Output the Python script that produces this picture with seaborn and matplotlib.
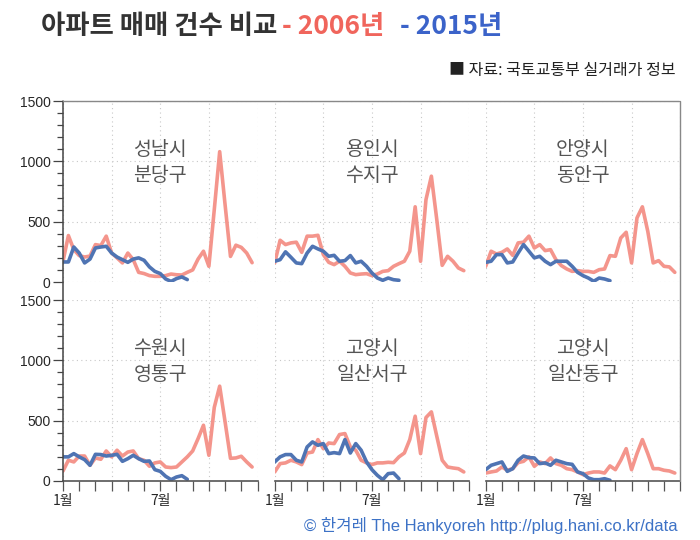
import matplotlib
matplotlib.use("Agg")
import matplotlib.pyplot as plt
import matplotlib.lines as mlines
import seaborn as sns
import pandas as pd
import numpy as np

# ============================================================================
# DATA (apartment sales count, 3 periods per month: 상/중/하순)
# ============================================================================
REGIONS = [('성남시', '분당구'), ('용인시', '수지구'), ('안양시', '동안구'),
           ('수원시', '영통구'), ('고양시', '일산서구'), ('고양시', '일산동구')]

Y2006_BUNDANG = [171, 385, 268, 219, 207, 215, 310, 302, 380, 240, 200, 158,
                 240, 185, 80, 70, 53, 47, 47, 53, 66, 60, 58, 80,
                 100, 190, 255, 130, 600, 1080, 640, 212, 305, 287, 240, 160]
Y2015_BUNDANG = [166, 166, 290, 240, 158, 190, 282, 290, 296, 240, 207, 185,
                 163, 190, 200, 180, 125, 88, 70, 25, 5, 28, 42, 20]

Y2006_SUJI = [158, 346, 310, 324, 330, 246, 380, 380, 387, 227, 163, 144,
              172, 130, 75, 61, 66, 69, 53, 66, 88, 94, 130, 152,
              172, 255, 623, 172, 683, 877, 517, 138, 213, 172, 116, 94]
Y2015_SUJI = [172, 185, 250, 205, 158, 152, 240, 296, 274, 255, 213, 221,
              172, 177, 219, 158, 172, 130, 75, 33, 14, 33, 19, 14]

Y2006_DONGAN = [130, 255, 232, 246, 274, 221, 324, 330, 380, 282, 310, 260,
                268, 185, 136, 108, 88, 94, 88, 88, 80, 102, 108, 219,
                213, 365, 412, 158, 531, 623, 420, 158, 177, 130, 125, 80]
Y2015_DONGAN = [163, 172, 227, 227, 158, 166, 240, 310, 255, 200, 213, 172,
                144, 172, 172, 172, 130, 80, 53, 33, 6, 33, 25, 11]

Y2006_YEONGTONG = [83, 172, 158, 207, 207, 130, 191, 180, 249, 200, 255, 207,
                   240, 249, 185, 172, 122, 150, 158, 116, 111, 116, 158, 200,
                   249, 351, 462, 213, 610, 786, 490, 188, 191, 205, 158, 116]
Y2015_YEONGTONG = [200, 200, 227, 200, 177, 130, 221, 219, 207, 213, 221, 163,
                   185, 213, 185, 163, 166, 94, 80, 39, 11, 33, 44, 14]

Y2006_ILSANSEO = [75, 144, 150, 172, 158, 136, 232, 240, 343, 268, 315, 310,
                  385, 393, 282, 255, 172, 150, 136, 150, 150, 155, 152, 200,
                  232, 343, 537, 227, 526, 573, 371, 172, 116, 108, 102, 75]
Y2015_ILSANSEO = [158, 200, 219, 219, 172, 158, 282, 324, 296, 310, 227, 235,
                  227, 343, 232, 310, 255, 158, 94, 47, 11, 61, 66, 19]

Y2006_ILSANDONG = [66, 75, 83, 116, 89, 102, 152, 163, 200, 122, 158, 144,
                   191, 144, 130, 102, 94, 75, 53, 66, 75, 75, 66, 125,
                   94, 172, 268, 94, 227, 343, 227, 102, 102, 89, 83, 66]
Y2015_ILSANDONG = [94, 130, 144, 158, 80, 102, 172, 207, 194, 191, 144, 150,
                   130, 172, 158, 144, 138, 75, 61, 25, 11, 11, 19, 6]

SERIES_2006 = [Y2006_BUNDANG, Y2006_SUJI, Y2006_DONGAN,
               Y2006_YEONGTONG, Y2006_ILSANSEO, Y2006_ILSANDONG]
SERIES_2015 = [Y2015_BUNDANG, Y2015_SUJI, Y2015_DONGAN,
               Y2015_YEONGTONG, Y2015_ILSANSEO, Y2015_ILSANDONG]

COLORS = {'2006': '#f4958c', '2015': '#4f74b3'}
KFONT = ['Noto Sans CJK KR', 'DejaVu Sans']
NFONT = ['Liberation Sans', 'Noto Sans CJK KR']

# ============================================================================
# LAYOUT
# ============================================================================
sns.set_style("white")
plt.rcParams['font.family'] = KFONT

W, H = 700, 540
fig = plt.figure(figsize=(7, 5.4), dpi=100)

col_left = [63, 274.7, 485.7]
row_top = [101, 300]
ax_w, ax_h = 194.5, 181

for k, (city, gu) in enumerate(REGIONS):
    r, c = divmod(k, 3)
    ax = fig.add_axes([col_left[c] / W, 1 - (row_top[r] + ax_h) / H, ax_w / W, ax_h / H])
    df = pd.concat([
        pd.DataFrame({'x': np.arange(len(SERIES_2006[k])) / 3, 'v': SERIES_2006[k], 'year': '2006'}),
        pd.DataFrame({'x': np.arange(len(SERIES_2015[k])) / 3, 'v': SERIES_2015[k], 'year': '2015'}),
    ])
    sns.lineplot(data=df, x='x', y='v', hue='year', palette=COLORS, linewidth=2.6,
                 legend=False, ax=ax)
    ax.set_xlim(0, 12)
    ax.set_ylim(0, 1500)
    ax.set_xlabel('')
    ax.set_ylabel('')

    # dotted grid
    for gx in [0, 3, 6, 9, 12]:
        ax.axvline(gx, color='#c8c8c8', linestyle=(0, (1, 3)), linewidth=0.8, zorder=0)
    for gy in [0, 500, 1000, 1500]:
        ax.axhline(gy, color='#c8c8c8', linestyle=(0, (1, 3)), linewidth=0.8, zorder=0)

    for s in ax.spines.values():
        s.set_visible(False)

    ax.text(6, 1100, city, ha='center', va='center', fontsize=14, color='#555555')
    ax.text(6, 880, gu, ha='center', va='center', fontsize=14, color='#555555')

    # y axis only on left column
    if c == 0:
        ax.set_yticks([0, 500, 1000, 1500])
        ax.set_yticks(np.arange(0, 1501, 100), minor=True)
        ax.set_yticklabels(['0', '500', '1000', '1500'], fontsize=10, family=NFONT)
        ax.tick_params(axis='y', which='major', length=7, width=0.9, color='#444444', pad=2, left=True)
        ax.tick_params(axis='y', which='minor', length=4, width=0.9, color='#444444', left=True)
    else:
        ax.set_yticks([])
        ax.set_yticks([], minor=True)

    # x axis only on bottom row
    if r == 1:
        ax.spines['bottom'].set_visible(True)
        ax.spines['bottom'].set_color('#555555')
        ax.spines['bottom'].set_linewidth(1.2)
        ax.set_xticks([0, 6])
        ax.set_xticklabels(['1월', '7월'], fontsize=10)
        ax.set_xticks(np.arange(0, 13, 1), minor=True)
        ax.tick_params(axis='x', which='both', length=7, width=0.9, color='#555555', bottom=True, pad=2)
    else:
        ax.set_xticks([])
        ax.set_xticks([], minor=True)

# frame lines: left, top, right
fig.add_artist(mlines.Line2D([63 / W, 63 / W], [1 - 101 / H, 1 - 481 / H], color='#444444', linewidth=1.1))
fig.add_artist(mlines.Line2D([63 / W, 679 / W], [1 - 101 / H, 1 - 101 / H], color='#888888', linewidth=1.0))
fig.add_artist(mlines.Line2D([679.5 / W, 679.5 / W], [1 - 101 / H, 1 - 481 / H], color='#888888', linewidth=1.0))

# ============================================================================
# TITLE / NOTES
# ============================================================================
fig.canvas.draw()
renderer = fig.canvas.get_renderer()
x_px = 41
for txt, col, gap in [('아파트 매매 건수 비교', '#333333', 5),
                      ('- 2006년', '#f0655c', 15),
                      ('- 2015년', '#3b63c9', 0)]:
    t = fig.text(x_px / W, 1 - 27 / H, txt, fontsize=19, fontweight='bold',
                 color=col, ha='left', va='center')
    bb = t.get_window_extent(renderer)
    x_px = bb.x1 + gap

fig.text(676 / W, 1 - 70 / H, '■ 자료: 국토교통부 실거래가 정보', fontsize=11.5,
         color='#222222', ha='right', va='center')
fig.text(678 / W, 1 - 525 / H, '© 한겨레 The Hankyoreh http://plug.hani.co.kr/data',
         fontsize=12, color='#3d72c6', ha='right', va='center', family=NFONT)

plt.savefig('out.png', dpi=100)
